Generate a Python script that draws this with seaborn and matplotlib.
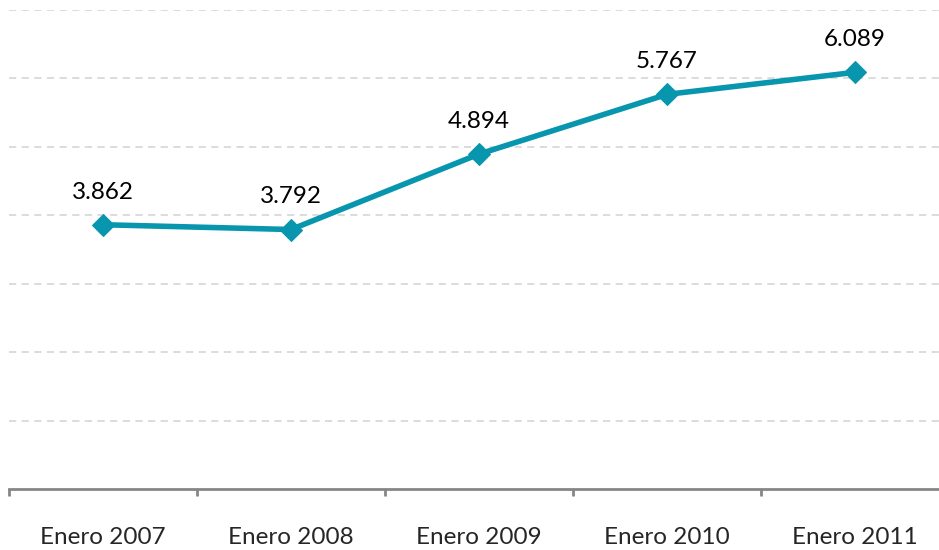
import pandas as pd
import matplotlib.pyplot as plt
import seaborn as sns

# datos
periodos = ['Enero 2007', 'Enero 2008', 'Enero 2009', 'Enero 2010', 'Enero 2011']
valores = [3862, 3792, 4894, 5767, 6089]
etiquetas = ['3.862', '3.792', '4.894', '5.767', '6.089']

df = pd.DataFrame({'periodo': periodos, 'valor': valores})
df['pos'] = range(len(df))

sns.set_style('white')
plt.rcParams['font.family'] = ['Lato', 'DejaVu Sans']

color = '#0796AD'

fig = plt.figure(figsize=(9.39, 5.5), dpi=100)
ax = fig.add_axes([9 / 939, 61 / 550, 940 / 939, 479 / 550])

sns.lineplot(data=df, x='pos', y='valor', ax=ax, color=color, linewidth=4,
             marker='D', markersize=11, markeredgecolor=color)

for x, y, t in zip(df['pos'], df['valor'], etiquetas):
    ax.annotate(t, (x, y), xytext=(0, 16), textcoords='offset points',
                ha='center', va='bottom', fontsize=17.5, color='black')

ax.set_xlim(-0.5, 4.5)
ax.set_ylim(0, 7000)
ax.set_yticks(range(1000, 8000, 1000))
ax.yaxis.grid(True, linestyle=(0, (4, 3)), color='#D9D9D9', linewidth=1.3)
ax.set_yticklabels([])
ax.tick_params(axis='y', length=0)

# etiquetas centradas, marcas entre categorías
ax.set_xticks(range(5))
ax.set_xticklabels(periodos, fontsize=17.5)
ax.set_xticks([-0.5, 0.5, 1.5, 2.5, 3.5, 4.5], minor=True)
ax.tick_params(axis='x', which='major', bottom=False, pad=24)
ax.tick_params(axis='x', which='minor', bottom=True, length=5, width=2,
               color='#868686', direction='out')
ax.set_xlabel('')
ax.set_ylabel('')

for s in ['top', 'right', 'left']:
    ax.spines[s].set_visible(False)
ax.spines['bottom'].set_color('#868686')
ax.spines['bottom'].set_linewidth(2)

fig.savefig('out.png', dpi=100)
plt.close()
